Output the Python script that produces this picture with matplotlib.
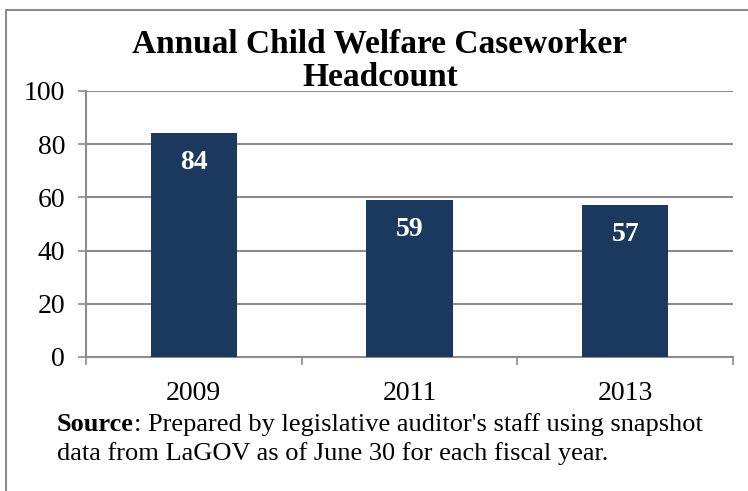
import numpy as np
import matplotlib.pyplot as plt
from matplotlib.lines import Line2D

# headcount by fiscal year
years = ["2009", "2011", "2013"]
headcount = [84, 59, 57]

plt.rcParams['font.family'] = ['Liberation Serif', 'DejaVu Serif']

bar_color = "#1B385E"
grid_color = "#8C8C8C"

fig = plt.figure(figsize=(7.48, 4.91), dpi=100)
ax = fig.add_axes([0.115, 0.273, 0.865, 0.542])

x = np.arange(len(years))
bars = ax.bar(x, headcount, width=0.4, color=bar_color, zorder=3)

# value labels inside the top of each bar
for xi, v in zip(x, headcount):
    ax.text(xi, v - 11, str(v), ha="center", va="center", color="white",
            fontsize=20, fontweight="bold", zorder=4)

ax.set_ylim(0, 100)
ax.set_yticks(range(0, 101, 20))
ax.set_xlim(-0.5, len(years) - 0.5)
ax.set_xticks(x)
ax.set_xticklabels(years)
ax.set_xticks(np.arange(-0.5, len(years), 1), minor=True)

ax.yaxis.grid(True, color=grid_color, linewidth=1.5, zorder=0)
ax.tick_params(axis="y", length=6, width=1.2, color=grid_color, pad=9, labelsize=20)
ax.tick_params(axis="x", which="major", length=0, pad=17, labelsize=20)
ax.tick_params(axis="x", which="minor", length=6, width=1.2, color=grid_color)

for side in ["top", "right"]:
    ax.spines[side].set_visible(False)
for side in ["left", "bottom"]:
    ax.spines[side].set_color(grid_color)
    ax.spines[side].set_linewidth(1.5)

fig.text(0.508, 0.91, "Annual Child Welfare Caseworker", ha="center", va="center",
         fontsize=24, fontweight="bold")
fig.text(0.508, 0.842, "Headcount", ha="center", va="center",
         fontsize=24, fontweight="bold")

# source note under the chart
src = fig.text(0.076, 0.122, "Source", fontsize=19, fontweight="bold", va="baseline")
ax.annotate(": Prepared by legislative auditor's staff using snapshot",
            xy=(1, 0), xycoords=src, fontsize=19, va="bottom", annotation_clip=False)
fig.text(0.076, 0.063, "data from LaGOV as of June 30 for each fiscal year.",
         fontsize=19, va="baseline")

# frame lines along top and left edge
fig.add_artist(Line2D([0.008, 0.008, 1.0], [0.0, 0.98, 0.98],
                      transform=fig.transFigure, color=grid_color, linewidth=1.5))

fig.savefig("out.png", dpi=100)
